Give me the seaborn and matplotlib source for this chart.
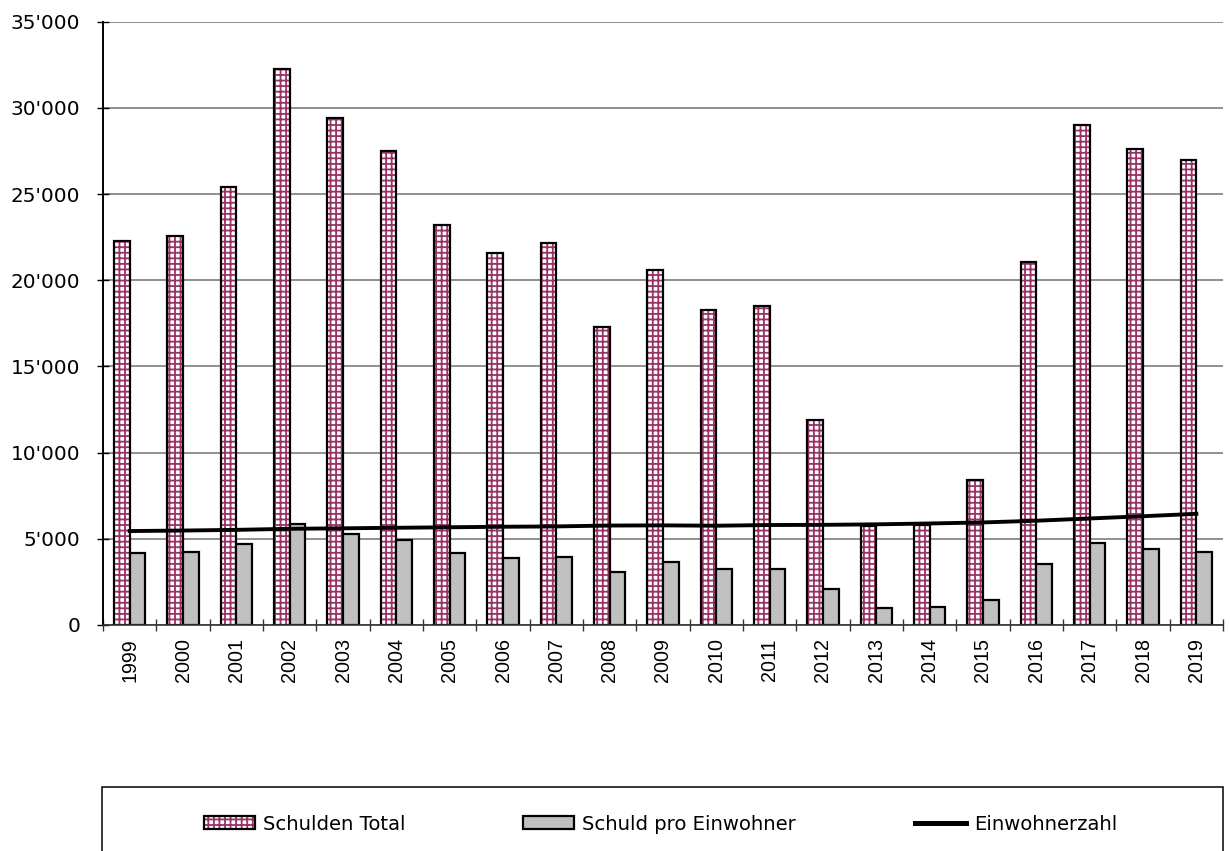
import numpy as np
import pandas as pd
import matplotlib
matplotlib.use("Agg")
import matplotlib.pyplot as plt
import matplotlib.patches as mpatches
from matplotlib.lines import Line2D
from matplotlib.colors import to_rgba
from matplotlib.ticker import FuncFormatter, MultipleLocator, FixedLocator
import seaborn as sns

# ---- data ----
years = [str(y) for y in range(1999, 2020)]
schulden_total = [22260, 22590, 25410, 32280, 29400, 27470, 23220, 21560, 22160, 17280,
                  20600, 18300, 18490, 11920, 5720, 5780, 8390, 21040, 29020, 27610, 26970]
schuld_pro_einwohner = [4170, 4220, 4690, 5870, 5290, 4940, 4190, 3860, 3970, 3080,
                        3640, 3220, 3220, 2090, 990, 1030, 1450, 3540, 4750, 4410, 4220]
einwohnerzahl = [5450, 5480, 5520, 5580, 5610, 5640, 5670, 5700, 5720, 5770,
                 5780, 5760, 5800, 5810, 5840, 5890, 5950, 6050, 6180, 6310, 6450]
series_names = ["Schulden Total", "Schuld pro Einwohner", "Einwohnerzahl"]

PLUM = "#993366"
GRAY = "#c0c0c0"

plt.rcParams["font.family"] = ["DejaVu Sans"]
plt.rcParams["hatch.linewidth"] = 1.3
plt.rcParams["hatch.color"] = PLUM

df = pd.DataFrame({
    "Jahr": years * 2,
    "Wert": schulden_total + schuld_pro_einwohner,
    "Serie": [series_names[0]] * len(years) + [series_names[1]] * len(years),
})

fig = plt.figure(figsize=(12.3, 8.51), dpi=100)
ax = fig.add_axes([103 / 1230, 1 - 625 / 851, (1223 - 103) / 1230, (625 - 21.7) / 851])

sns.barplot(data=df, x="Jahr", y="Wert", hue="Serie", order=years,
            hue_order=series_names[:2],
            palette={series_names[0]: "white", series_names[1]: GRAY},
            width=0.59, gap=0, saturation=1, errorbar=None,
            edgecolor="black", linewidth=1.6, legend=False, ax=ax)


def set_hatch_color(p, color):
    p.set_hatch("+++")
    if hasattr(p, "set_hatchcolor"):
        try:
            p.set_hatchcolor(color)
            return
        except Exception:
            pass
    p._hatch_color = to_rgba(color)


for p in ax.patches:
    fc = p.get_facecolor()
    if fc[0] > 0.95 and fc[1] > 0.95 and fc[2] > 0.95:
        set_hatch_color(p, PLUM)
        p.set_edgecolor("black")
        set_hatch_color(p, PLUM)

sns.lineplot(x=np.arange(len(years)), y=einwohnerzahl, color="black", lw=2.8,
             ax=ax, zorder=5)

# axes styling
ax.set_xlim(-0.5, len(years) - 0.5)
ax.set_ylim(0, 35000)
ax.yaxis.set_major_locator(MultipleLocator(5000))
ax.yaxis.set_major_formatter(FuncFormatter(lambda v, pos: f"{int(v):,}".replace(",", "'")))
ax.set_xlabel("")
ax.set_ylabel("")

ax.set_xticks(np.arange(len(years)))
ax.set_xticklabels(years, rotation=90, family="Liberation Sans", fontsize=14.2)
ax.xaxis.set_minor_locator(FixedLocator(np.arange(len(years) + 1) - 0.5))
ax.tick_params(axis="x", which="major", length=0, pad=9.4)
ax.tick_params(axis="x", which="minor", direction="inout", length=8.6, width=1.0,
               color="#333333")
ax.tick_params(axis="y", which="major", direction="inout", length=8.6, width=1.0,
               pad=12.2, labelsize=14.4, color="black")

ax.yaxis.grid(True, color="#8f8f8f", lw=1.4)
ax.xaxis.grid(False)
ax.set_axisbelow(True)
for s in ["top", "right"]:
    ax.spines[s].set_visible(False)
ax.spines["left"].set_color("black")
ax.spines["left"].set_linewidth(1.4)
ax.spines["bottom"].set_color("#333333")
ax.spines["bottom"].set_linewidth(1.2)

# legend frame
frame = mpatches.Rectangle((102 / 1230, -0.05), (1223 - 102) / 1230, 0.05 + (1 - 787 / 851),
                           transform=fig.transFigure, fill=False, ec="black", lw=1.1)
fig.patches.append(frame)

h1 = mpatches.Patch(facecolor="white", edgecolor="black", linewidth=1.6)
set_hatch_color(h1, PLUM)
h2 = mpatches.Patch(facecolor=GRAY, edgecolor="black", linewidth=1.6)
h3 = Line2D([], [], color="black", lw=3.6)

ly = 1 - 824 / 851
for h, name, xl in [(h1, series_names[0], 204), (h2, series_names[1], 523),
                    (h3, series_names[2], 915)]:
    leg = fig.legend([h], [name], loc="center left", bbox_to_anchor=(xl / 1230, ly),
                     frameon=False, fontsize=14.1, handlelength=2.6, handleheight=0.65,
                     handletextpad=0.4, borderpad=0, borderaxespad=0)

fig.savefig("out.png", dpi=100)
